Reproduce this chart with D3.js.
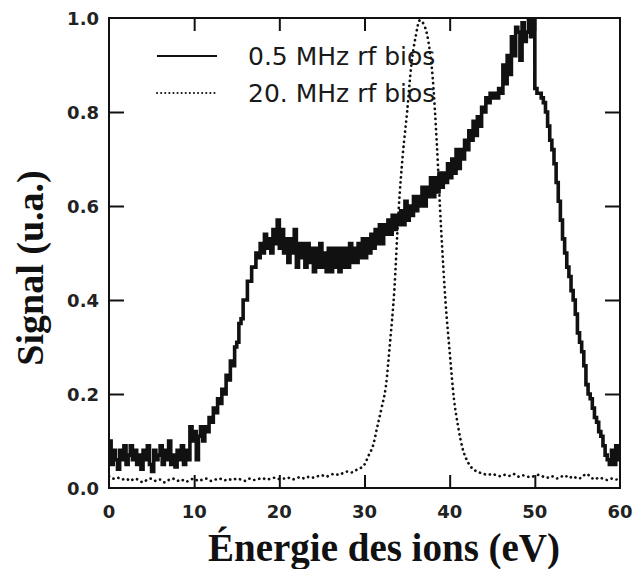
<!DOCTYPE html>
<html>
<head>
<meta charset="utf-8">
<script src="https://cdn.jsdelivr.net/npm/d3@7"></script>
<style>
  html, body { margin: 0; padding: 0; background: #fff; }
  svg { display: block; }
</style>
</head>
<body>
<svg id="chart" width="633" height="569"></svg>
<script>
// ---------- data ----------
const xTicks = [0, 10, 20, 30, 40, 50, 60];
const yTicks = [0.0, 0.2, 0.4, 0.6, 0.8, 1.0];
const seriesNames = ["0.5 MHz rf bios", "20. MHz rf bios"];
const xTitle = "Énergie des ions (eV)";
const yTitle = "Signal (u.a.)";

// 0.5 MHz rf bias: energies 0..60 eV every 0.25 eV
const step05 = 0.25;
const signal05 = [
  0.10, 0.05, 0.08, 0.06,
  0.04, 0.08, 0.06, 0.09,
  0.05, 0.07, 0.09, 0.06,
  0.08, 0.05, 0.07, 0.04,
  0.08, 0.06, 0.09, 0.05,
  0.035, 0.08, 0.06, 0.07,
  0.09, 0.05, 0.08, 0.06,
  0.10, 0.05, 0.07, 0.045,
  0.08, 0.06, 0.09, 0.05,
  0.08, 0.06, 0.13, 0.10,
  0.12, 0.06, 0.11, 0.13,
  0.10, 0.13, 0.12, 0.15,
  0.14, 0.17, 0.16, 0.19,
  0.18, 0.21, 0.20, 0.24,
  0.23, 0.27, 0.26, 0.30,
  0.31, 0.35, 0.36, 0.40,
  0.40, 0.44, 0.44, 0.47,
  0.47, 0.50, 0.49, 0.52,
  0.50, 0.54, 0.51, 0.53,
  0.50, 0.55, 0.52, 0.57,
  0.51, 0.55, 0.50, 0.53,
  0.48, 0.53, 0.50, 0.55,
  0.47, 0.52, 0.49, 0.52,
  0.47, 0.52, 0.48, 0.51,
  0.46, 0.51, 0.47, 0.52,
  0.47, 0.50, 0.46, 0.51,
  0.46, 0.51, 0.47, 0.51,
  0.46, 0.51, 0.47, 0.51,
  0.47, 0.52, 0.48, 0.51,
  0.48, 0.52, 0.49, 0.53,
  0.49, 0.53, 0.50, 0.54,
  0.51, 0.55, 0.52, 0.56,
  0.52, 0.56, 0.54, 0.57,
  0.54, 0.58, 0.55, 0.58,
  0.56, 0.59, 0.56, 0.61,
  0.57, 0.60, 0.58, 0.62,
  0.59, 0.62, 0.60, 0.64,
  0.60, 0.64, 0.62, 0.66,
  0.62, 0.66, 0.63, 0.67,
  0.64, 0.67, 0.65, 0.69,
  0.66, 0.70, 0.67, 0.72,
  0.68, 0.72, 0.70, 0.74,
  0.72, 0.76, 0.74, 0.78,
  0.75, 0.79, 0.77, 0.81,
  0.80, 0.83, 0.82, 0.84,
  0.83, 0.84, 0.83, 0.85,
  0.84, 0.90, 0.86, 0.92,
  0.88, 0.96, 0.92, 0.98,
  0.97, 0.91, 0.99, 0.95,
  0.97, 1.00, 0.96, 1.00,
  0.85, 0.84, 0.84, 0.83,
  0.82, 0.80, 0.77, 0.74,
  0.72, 0.69, 0.65, 0.61,
  0.57, 0.53, 0.50, 0.47,
  0.45, 0.42, 0.40, 0.37,
  0.33, 0.31, 0.29, 0.26,
  0.22, 0.20, 0.19, 0.17,
  0.15, 0.14, 0.12, 0.11,
  0.09, 0.07, 0.06, 0.05,
  0.08, 0.05, 0.09, 0.06,
  0.08
];

// 20 MHz rf bias: energies 0..60 eV every 0.5 eV
const step20 = 0.5;
const signal20 = [
  0.025,0.02,0.022,0.018,0.02,0.015,0.02,0.017,0.012,0.018,0.02,0.015,0.018,0.012,0.017,0.02,0.015,0.018,0.013,0.017,
  0.02,0.015,0.018,0.02,0.015,0.018,0.02,0.016,0.019,0.017,0.02,0.018,0.015,0.02,0.017,0.019,0.021,0.018,0.02,0.022,
  0.019,0.02,0.022,0.018,0.021,0.023,0.02,0.024,0.022,0.025,0.027,0.024,0.028,0.03,0.028,0.032,0.035,0.033,0.038,0.042,
  0.05,0.07,0.09,0.13,0.17,0.215,0.31,0.42,0.59,0.71,0.80,0.90,0.96,0.995,0.985,0.95,0.875,0.73,0.55,0.40,
  0.29,0.19,0.13,0.085,0.06,0.045,0.037,0.033,0.03,0.028,0.03,0.027,0.025,0.028,0.026,0.03,0.024,0.027,0.025,0.023,
  0.026,0.028,0.024,0.022,0.025,0.02,0.023,0.027,0.021,0.025,0.02,0.022,0.03,0.025,0.018,0.022,0.02,0.017,0.02,0.018,0.02
];

// ---------- layout ----------
const svg = d3.select("#chart");
const plot = { left: 109, right: 620, top: 18, bottom: 488 };
const ink = "#111";

const x = d3.scaleLinear().domain([0, 60]).range([plot.left, plot.right]);
const y = d3.scaleLinear().domain([0, 1]).range([plot.bottom, plot.top]);

const pts05 = signal05.map((v, i) => [i * step05, v]);
const pts20 = signal20.map((v, i) => [i * step20, v]);

svg.append("defs").append("clipPath").attr("id", "clip")
  .append("rect")
  .attr("x", plot.left).attr("y", plot.top - 1)
  .attr("width", plot.right - plot.left).attr("height", plot.bottom - plot.top + 1);

// curves
const g = svg.append("g").attr("clip-path", "url(#clip)");

g.append("path")
  .datum(pts20)
  .attr("fill", "none")
  .attr("stroke", ink)
  .attr("stroke-width", 2.7)
  .attr("stroke-linecap", "round")
  .attr("stroke-dasharray", "0.1,5")
  .attr("d", d3.line().x(d => x(d[0])).y(d => y(d[1])).curve(d3.curveMonotoneX));

g.append("path")
  .datum(pts05)
  .attr("fill", "none")
  .attr("stroke", ink)
  .attr("stroke-width", 3.6)
  .attr("stroke-linejoin", "miter")
  .attr("d", d3.line().x(d => x(d[0])).y(d => y(d[1])).curve(d3.curveStepAfter));

// axes (ticks inward, on all four sides)
const tickStyle = sel => {
  sel.select(".domain").remove();
  sel.selectAll("line").attr("stroke", ink).attr("stroke-width", 2);
  sel.selectAll("text").remove();
};
svg.append("g").attr("transform", `translate(0,${plot.bottom})`)
  .call(d3.axisTop(x).tickValues(xTicks.slice(1, -1)).tickSize(13)).call(tickStyle);
svg.append("g").attr("transform", `translate(0,${plot.top})`)
  .call(d3.axisBottom(x).tickValues(xTicks.slice(1, -1)).tickSize(13)).call(tickStyle);
svg.append("g").attr("transform", `translate(${plot.left},0)`)
  .call(d3.axisRight(y).tickValues(yTicks.slice(1, -1)).tickSize(15)).call(tickStyle);
svg.append("g").attr("transform", `translate(${plot.right},0)`)
  .call(d3.axisLeft(y).tickValues(yTicks.slice(1, -1)).tickSize(15)).call(tickStyle);

// frame
svg.append("rect")
  .attr("x", plot.left).attr("y", plot.top)
  .attr("width", plot.right - plot.left).attr("height", plot.bottom - plot.top)
  .attr("fill", "none").attr("stroke", ink).attr("stroke-width", 2);

// tick labels
const tickFont = "'DejaVu Sans', sans-serif";
svg.append("g").selectAll("text").data(xTicks).join("text")
  .attr("x", d => x(d)).attr("y", 518)
  .attr("text-anchor", "middle")
  .attr("font-family", tickFont).attr("font-weight", "bold").attr("font-size", 18)
  .attr("fill", "#222")
  .text(d => d);
svg.append("g").selectAll("text").data(yTicks).join("text")
  .attr("x", 99).attr("y", d => y(d) + 7)
  .attr("text-anchor", "end")
  .attr("font-family", tickFont).attr("font-weight", "bold").attr("font-size", 18)
  .attr("fill", "#222")
  .text(d => d3.format(".1f")(d));

// axis titles
svg.append("text")
  .attr("x", 384).attr("y", 561)
  .attr("text-anchor", "middle")
  .attr("font-family", "'Liberation Serif', 'Times New Roman', serif")
  .attr("font-weight", "bold").attr("font-size", 39)
  .attr("fill", "#111")
  .text(xTitle);
svg.append("text")
  .attr("transform", "translate(43,268) rotate(-90)")
  .attr("text-anchor", "middle")
  .attr("font-family", "'Liberation Serif', 'Times New Roman', serif")
  .attr("font-weight", "bold").attr("font-size", 38)
  .attr("fill", "#111")
  .text(yTitle);

// legend
const legend = svg.append("g");
const legY = [56, 93];
legend.append("line")
  .attr("x1", 157).attr("x2", 217).attr("y1", legY[0]).attr("y2", legY[0])
  .attr("stroke", ink).attr("stroke-width", 2);
legend.append("line")
  .attr("x1", 157).attr("x2", 217).attr("y1", legY[1]).attr("y2", legY[1])
  .attr("stroke", ink).attr("stroke-width", 2)
  .attr("stroke-linecap", "round").attr("stroke-dasharray", "0.1,4");
legend.selectAll("text.leg").data(seriesNames).join("text")
  .attr("class", "leg")
  .attr("x", 248).attr("y", (d, i) => legY[i] + 9)
  .attr("font-family", "'DejaVu Sans', sans-serif")
  .attr("font-size", 25)
  .attr("fill", "#1a1a1a")
  .text(d => d);
</script>
</body>
</html>
